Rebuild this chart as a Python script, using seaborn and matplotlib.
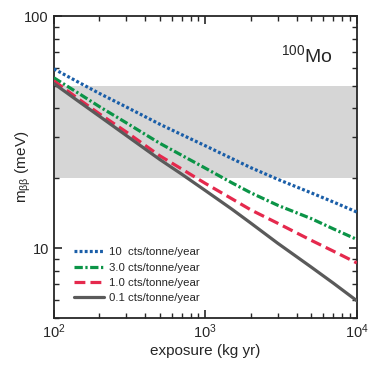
import matplotlib
matplotlib.use('Agg')
import matplotlib.pyplot as plt
import seaborn as sns
import pandas as pd
from matplotlib.ticker import LogLocator, NullFormatter, FixedLocator, FixedFormatter

# Exposure (kg yr) and sensitivity curves (meV)
exposure = [100, 150, 200, 300, 500, 700, 1000, 1500, 2000, 3000, 5000, 7000, 10000]
m_10 = [59.2, 51.3, 46.4, 40.6, 34.2, 30.8, 27.6, 24.3, 22.2, 19.8, 17.3, 15.8, 14.3]
m_3 = [54.2, 45.9, 40.7, 34.7, 28.3, 25.1, 22.1, 19.1, 17.3, 15.3, 13.4, 12.1, 10.9]
m_1 = [52.6, 43.3, 37.9, 31.7, 25.0, 21.9, 19.0, 16.3, 14.6, 12.8, 10.8, 9.7, 8.63]
m_01 = [51.2, 42.3, 37.0, 30.6, 24.1, 20.8, 17.7, 14.7, 12.8, 10.5, 8.28, 7.06, 5.93]

labels = ["10  cts/tonne/year", "3.0 cts/tonne/year",
          "1.0 cts/tonne/year", "0.1 cts/tonne/year"]
band = (20, 50)

sns.set_style("ticks")
plt.rcParams['font.family'] = ['Liberation Sans', 'DejaVu Sans']
plt.rcParams['mathtext.fontset'] = 'custom'
plt.rcParams['mathtext.rm'] = 'Liberation Sans'
plt.rcParams['mathtext.it'] = 'Liberation Sans'

fig = plt.figure(figsize=(3.74, 3.74), dpi=100)
ax = fig.add_axes([0.144, 0.150, 0.810, 0.807])

ax.axhspan(band[0], band[1], color='#d6d6d6', lw=0, zorder=0)

styles = [
    (m_10, '#1a5ea8', (0.9, 0.7)),
    (m_3, '#0b9447', (2.6, 0.8, 0.7, 0.8)),
    (m_1, '#e5294d', (3.4, 1.6)),
    (m_01, '#5a5a5a', None),
]
for (vals, col, dash), lab in zip(styles, labels):
    df = pd.DataFrame({'exposure': exposure, 'm': vals})
    sns.lineplot(data=df, x='exposure', y='m', ax=ax, color=col, lw=2.3,
                 label=lab, zorder=3)
    line = ax.get_lines()[-1]
    if dash is not None:
        line.set_dashes(dash)
        line.set_dash_capstyle('butt')

ax.set_xscale('log')
ax.set_yscale('log')
ax.set_xlim(100, 10000)
ax.set_ylim(5, 100)

ax.yaxis.set_major_locator(FixedLocator([10, 100]))
ax.yaxis.set_major_formatter(FixedFormatter(['10', '100']))
ax.yaxis.set_minor_locator(LogLocator(base=10, subs=range(2, 10)))
ax.yaxis.set_minor_formatter(NullFormatter())
ax.xaxis.set_minor_locator(LogLocator(base=10, subs=range(2, 10)))
ax.xaxis.set_minor_formatter(NullFormatter())

ax.tick_params(which='both', direction='in', top=True, right=True, labelsize=10.5)
ax.tick_params(which='major', length=6, width=1.2)
ax.tick_params(which='minor', length=3.5, width=1.0)
for s in ax.spines.values():
    s.set_linewidth(1.3)

ax.set_xlabel('exposure (kg yr)', fontsize=11, labelpad=2)
ax.set_ylabel(r'm$_{\beta\beta}$ (meV)', fontsize=11)
ax.yaxis.set_label_coords(-0.068, 0.5)

ax.text(0.921, 0.87, r'$^{100}$Mo', transform=ax.transAxes, ha='right',
        va='center', fontsize=14)

ax.legend(loc='lower left', frameon=False, fontsize=8.2, handlelength=2.65,
          handletextpad=0.45, labelspacing=0.45, borderaxespad=0.4,
          bbox_to_anchor=(0.035, 0.02))

fig.savefig('out.png', dpi=100)
